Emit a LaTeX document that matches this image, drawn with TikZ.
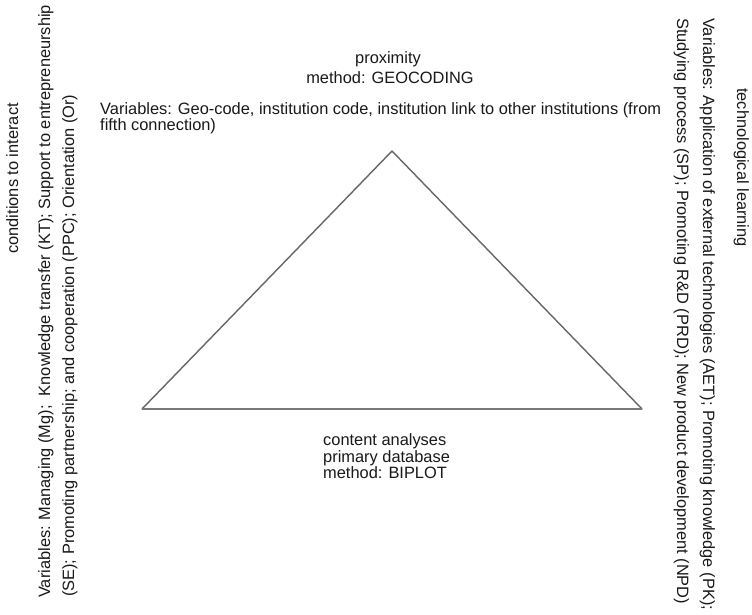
\documentclass[tikz,border=0pt]{standalone}
\usepackage{fontspec}
\setmainfont{Liberation Sans}
\begin{document}
\begin{tikzpicture}[x=1pt,y=1pt,
  lbl/.style={inner sep=0pt, font=\fontsize{16.4}{19}\selectfont, text=black!90},
  side/.style={draw=black!60, line width=1.4pt, line cap=round},
  basel/.style={draw=black!52, line width=2.2pt}]
  % canvas
  \fill[white] (0,0) rectangle (752,-614);
  \useasboundingbox (0,0) rectangle (752,-614);

  % triangle corners
  \coordinate (apex) at (392,-151);
  \coordinate (bl) at (142,-409);
  \coordinate (br) at (642,-409);
  \draw[side] (bl) -- (apex) -- (br);
  \draw[basel] (bl) -- (br);

  % top vertex: proximity
  \node[lbl, anchor=base] (prox) at (388,-63) {proximity};
  \node[lbl, anchor=base] (geo) at (390,-83) {method: GEOCODING};
  \node[lbl, anchor=base west] (gv1) at (100,-114) {Variables: Geo-code, institution code, institution link to other institutions (from};
  \node[lbl, anchor=base west] (gv2) at (100,-130) {fifth connection)};

  % base: content analyses
  \node[lbl, anchor=base west] (ca) at (323,-445) {content analyses};
  \node[lbl, anchor=base west] (pd) at (323,-462) {primary database};
  \node[lbl, anchor=base west] (bp) at (323,-478) {method: BIPLOT};

  % left vertex: conditions to interact
  \node[lbl, rotate=90, anchor=base east] (cond) at (18,-103) {conditions to interact};
  \node[lbl, rotate=90, anchor=base west] (lv1) at (50,-598) {Variables: Managing (Mg);\ \ Knowledge transfer (KT); Support to entrepreneurship};
  \node[lbl, rotate=90, anchor=base west] (lv2) at (74,-597) {(SE); Promoting partnership; and cooperation (PPC); Orientation (Or)};

  % right vertex: technological learning
  \node[lbl, rotate=-90, anchor=base west] (tech) at (737,-88) {technological learning};
  \node[lbl, rotate=-90, anchor=base west] (rv1) at (703,-18) {Variables: Application of external technologies (AET); Promoting knowledge (PK);};
  \node[lbl, rotate=-90, anchor=base west] (rv2) at (677,-18) {Studying process (SP); Promoting R\&D (PRD); New product development (NPD)};
\end{tikzpicture}
\end{document}
